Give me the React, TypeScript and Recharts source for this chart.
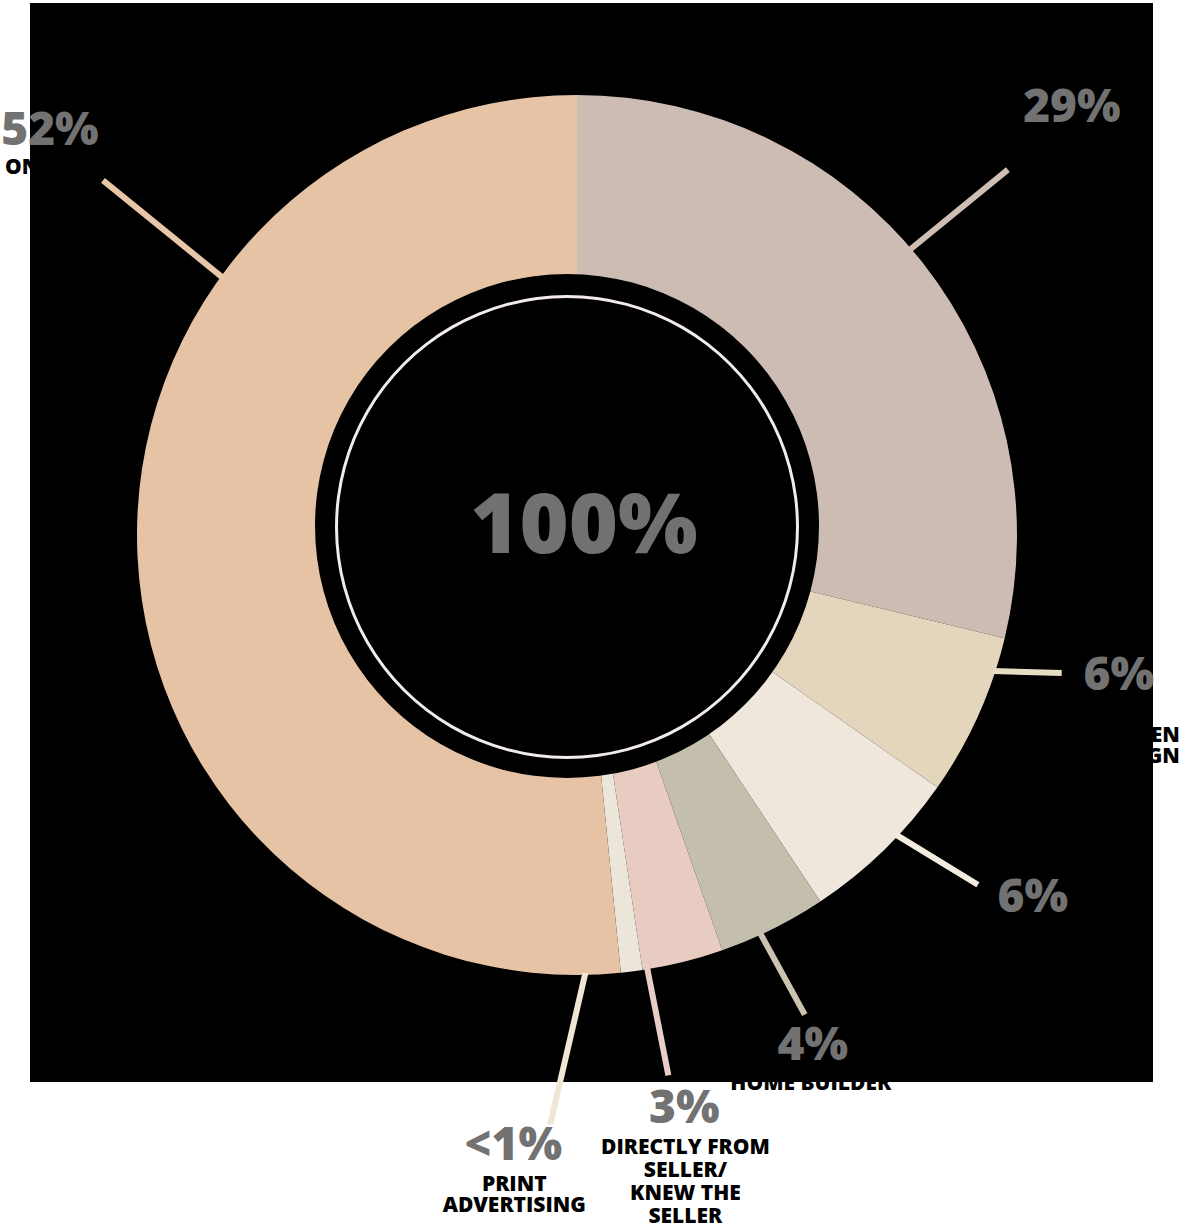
import { PieChart, Pie, Cell } from "recharts"

// where buyers found the home they bought (clockwise from 12 o'clock)
const CATEGORY_LINES = [
  ["REAL ESTATE", "AGENT"],
  ["YARD SIGN/OPEN", "HOUSE SIGN"],
  ["FRIEND/", "RELATIVE/", "NEIGHBOR"],
  ["HOME BUILDER"],
  ["DIRECTLY FROM", "SELLER/", "KNEW THE", "SELLER"],
  ["PRINT", "ADVERTISING"],
  ["ONLINE"],
]
const SHARES = [29, 6, 6, 4, 3, 0.8, 52]
const SHARE_LABELS = ["29%", "6%", "6%", "4%", "3%", "<1%", "52%"]
const TOTAL_LABEL = "100%"
const TOTAL = [100]

const COLORS = ["#cdbcb3", "#e3d6bc", "#efe7dc", "#c4bfad", "#e8cbc1", "#ece6da", "#e6c3a5"]
const LINE_COLORS = ["#cfbeb4", "#e6dcc4", "#f3ebe0", "#c9c3b0", "#e8cec6", "#efe6d6", "#e8c7a8"]

const FONT = "'Open Sans', 'Noto Sans', sans-serif"

// leader line: a1 = angle at ring edge, a2/r2 = tip; text offsets are from the tip
const LEADERS = [
  { a1: -40.6, a2: -40.3, r2: 565, pct: [64, -48], txt: [64, -20], anchor: "middle", gap: 23 },
  { a1: 18.1, a2: 15.9, r2: 504, pct: [57, 17], txt: [118, 69], anchor: "end", gap: 21 },
  { a1: 43.2, a2: 41.1, r2: 532, pct: [55, 27], txt: [55, 55], anchor: "middle", gap: 23 },
  { a1: 65.3, a2: 64.6, r2: 531, pct: [8, 45], txt: [6, 75], anchor: "middle", gap: 23 },
  { a1: 80.8, a2: 80.4, r2: 548, pct: [16, 48], txt: [17, 79], anchor: "middle", gap: 23 },
  { a1: 88.9, a2: 92.6, r2: 590, pct: [-37, 36], txt: [-36, 67], anchor: "middle", gap: 21 },
  { a1: -144, a2: -143.2, r2: 592, pct: [-53, -35], txt: [-98, -6], anchor: "start", gap: 23 },
]

const data = SHARES.map((v, i) => ({ name: CATEGORY_LINES[i].join(" "), value: v, label: SHARE_LABELS[i] }))
const totalData = TOTAL.map((v) => ({ name: "Total", value: v }))

const rad = Math.PI / 180
const polar = (cx: number, cy: number, r: number, deg: number) => [cx + r * Math.cos(deg * rad), cy + r * Math.sin(deg * rad)]

function renderLabel(props: any) {
  const { cx, cy, outerRadius, index } = props
  const L = LEADERS[index]
  const [x1, y1] = polar(cx, cy, outerRadius - 2, L.a1)
  const [x2, y2] = polar(cx, cy, L.r2, L.a2)
  const tx = x2 + L.txt[0]
  return (
    <g key={`lbl-${index}`}>
      <line x1={x1} y1={y1} x2={x2} y2={y2} stroke={LINE_COLORS[index]} strokeWidth={6} />
      <text x={x2 + L.pct[0]} y={y2 + L.pct[1]} textAnchor="middle" fontFamily={FONT} fontSize={46} fontWeight={800} fill="#727272">
        {SHARE_LABELS[index]}
      </text>
      <text x={tx} y={y2 + L.txt[1]} textAnchor={L.anchor as any} fontFamily={FONT} fontSize={21} fontWeight={800} fill="#000">
        {CATEGORY_LINES[index].map((s, i) => (
          <tspan key={i} x={tx} dy={i === 0 ? 0 : L.gap}>{s}</tspan>
        ))}
      </text>
    </g>
  )
}

function renderTotal(props: any) {
  const { cx, cy } = props
  return (
    <text x={cx + 17} y={cy + 27} textAnchor="middle" fontFamily={FONT} fontSize={84} fontWeight={800} fill="#717171">
      {TOTAL_LABEL}
    </text>
  )
}

export default function App() {
  return (
    <div style={{ position: "absolute", left: 0, top: 0, width: 1183, height: 1228, background: "#fff" }}>
      <div style={{ position: "absolute", left: 30, top: 3, width: 1123, height: 1079, background: "#000" }} />
      <PieChart width={1183} height={1228} margin={{ top: 0, right: 0, bottom: 0, left: 0 }}>
        <Pie
          data={data}
          dataKey="value"
          cx={577}
          cy={535}
          innerRadius={230}
          outerRadius={440}
          startAngle={90}
          endAngle={-270}
          stroke="none"
          label={renderLabel}
          labelLine={false}
          isAnimationActive={false}
        >
          {data.map((_, i) => <Cell key={i} fill={COLORS[i]} />)}
        </Pie>
        <Pie
          data={totalData}
          dataKey="value"
          cx={567}
          cy={526}
          innerRadius={0}
          outerRadius={252}
          fill="#000"
          stroke="none"
          label={renderTotal}
          labelLine={false}
          isAnimationActive={false}
        />
        <Pie
          data={totalData}
          dataKey="value"
          cx={567}
          cy={527}
          innerRadius={229}
          outerRadius={232}
          fill="#f2eaee"
          stroke="none"
          isAnimationActive={false}
        />
      </PieChart>
    </div>
  )
}
